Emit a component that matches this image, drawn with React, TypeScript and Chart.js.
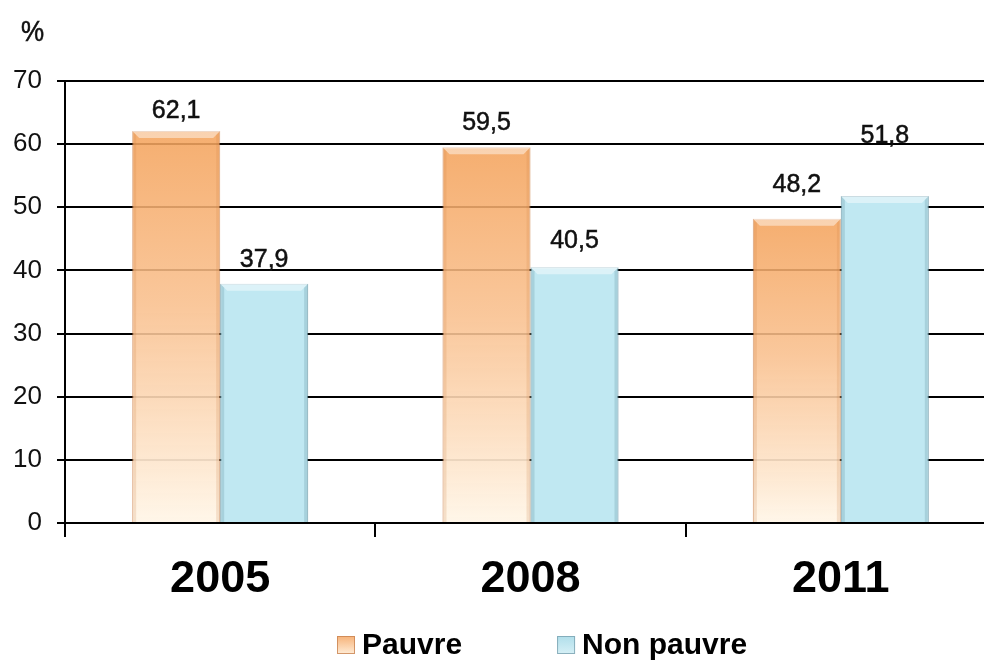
import { useEffect, useRef } from 'react';
import { Chart, registerables } from 'chart.js';

Chart.register(...registerables);

const categories = ['2005', '2008', '2011'];
const seriesNames = ['Pauvre', 'Non pauvre'];
const pauvre = [62.1, 59.5, 48.2];
const nonPauvre = [37.9, 40.5, 51.8];
const yTicks = [0, 10, 20, 30, 40, 50, 60, 70];
const unitLabel = '%';
// distance (px) of each value label above its bar top, as placed in the original
const pauvreLabelLift = [13, 17, 27];
const nonPauvreLabelLift = [17, 19, 53];

const FONT = '"Liberation Sans", Arial, Helvetica, sans-serif';

function orangeFill(ctx: any) {
  const chart = ctx.chart;
  const { chartArea, scales } = chart;
  if (!chartArea || !scales.y || ctx.type !== 'data') return 'rgba(245,168,100,0.9)';
  const v = pauvre[ctx.dataIndex];
  const top = scales.y.getPixelForValue(v);
  const bottom = scales.y.getPixelForValue(0);
  const g = chart.ctx.createLinearGradient(0, top, 0, bottom);
  g.addColorStop(0, 'rgba(244,163,92,0.88)');
  g.addColorStop(0.45, 'rgba(249,192,142,0.88)');
  g.addColorStop(1, 'rgba(255,246,232,0.95)');
  return g;
}

function blueFill() {
  return 'rgb(192,232,242)';
}

function stretchedText(ctx: any, text: string, x: number, y: number, sy: number) {
  ctx.save();
  ctx.translate(x, y);
  ctx.scale(1, sy);
  ctx.fillText(text, 0, 0);
  ctx.strokeText(text, 0, 0);
  ctx.restore();
}

const decorPlugin = {
  id: 'decor',
  afterDatasetsDraw(chart: any) {
    const ctx = chart.ctx;
    ctx.save();
    // bevel highlights on bar tops and shaded sides
    chart.data.datasets.forEach((ds: any, di: number) => {
      const meta = chart.getDatasetMeta(di);
      meta.data.forEach((bar: any) => {
        const l = bar.x - bar.width / 2;
        const r = bar.x + bar.width / 2;
        const t = bar.y;
        const b = bar.base;
        const bev = 7;
        ctx.fillStyle = 'rgba(255,255,255,0.45)';
        ctx.beginPath();
        ctx.moveTo(l, t);
        ctx.lineTo(r, t);
        ctx.lineTo(r - bev, t + bev);
        ctx.lineTo(l + bev, t + bev);
        ctx.closePath();
        ctx.fill();
        const side = di === 0 ? 'rgba(200,120,60,0.18)' : 'rgba(90,140,155,0.25)';
        ctx.fillStyle = side;
        ctx.beginPath();
        ctx.moveTo(r, t);
        ctx.lineTo(r, b);
        ctx.lineTo(r - 4, b);
        ctx.lineTo(r - 4, t + 4);
        ctx.closePath();
        ctx.fill();
        ctx.beginPath();
        ctx.moveTo(l, t);
        ctx.lineTo(l, b);
        ctx.lineTo(l + 4, b);
        ctx.lineTo(l + 4, t + 4);
        ctx.closePath();
        ctx.fill();
      });
    });
    // value labels
    const lifts = [pauvreLabelLift, nonPauvreLabelLift];
    ctx.font = `25px ${FONT}`;
    ctx.fillStyle = '#111';
    ctx.strokeStyle = '#111';
    ctx.lineWidth = 0.5;
    ctx.textAlign = 'center';
    ctx.textBaseline = 'alphabetic';
    chart.data.datasets.forEach((ds: any, di: number) => {
      const meta = chart.getDatasetMeta(di);
      meta.data.forEach((bar: any, i: number) => {
        const label = String(ds.data[i]).replace('.', ',');
        stretchedText(ctx, label, bar.x, bar.y - lifts[di][i], 1.06);
      });
    });
    ctx.restore();
  },
  afterDraw(chart: any) {
    const ctx = chart.ctx;
    ctx.save();
    // unit label
    ctx.font = `26px ${FONT}`;
    ctx.fillStyle = '#111';
    ctx.strokeStyle = '#111';
    ctx.lineWidth = 0.5;
    ctx.textAlign = 'left';
    ctx.textBaseline = 'alphabetic';
    stretchedText(ctx, unitLabel, 21, 41, 1.1);
    // legend
    ctx.font = `bold 30px ${FONT}`;
    ctx.textBaseline = 'middle';
    let x = 337;
    const y = 645;
    const fills = [
      ['rgb(246,178,120)', 'rgb(255,236,214)', 'rgba(200,130,80,0.8)'],
      ['rgb(176,222,234)', 'rgb(214,240,246)', 'rgba(120,160,175,0.8)'],
    ];
    chart.data.datasets.forEach((ds: any, i: number) => {
      const g = ctx.createLinearGradient(0, y - 9, 0, y + 9);
      g.addColorStop(0, fills[i][0]);
      g.addColorStop(1, fills[i][1]);
      ctx.fillStyle = g;
      ctx.fillRect(x, y - 9, 18, 18);
      ctx.strokeStyle = fills[i][2];
      ctx.lineWidth = 1;
      ctx.strokeRect(x + 0.5, y - 8.5, 17, 17);
      ctx.fillStyle = '#000';
      ctx.fillText(ds.label, x + 25, y + 1);
      x += 25 + ctx.measureText(ds.label).width + 95;
    });
    ctx.restore();
  },
};

export default function App() {
  const canvasRef = useRef<HTMLCanvasElement | null>(null);

  useEffect(() => {
    document.body.style.margin = '0';
    const canvas = canvasRef.current;
    if (!canvas) return;
    const chart = new Chart(canvas, {
      type: 'bar',
      data: {
        labels: categories,
        datasets: [
          {
            label: seriesNames[0],
            data: pauvre,
            backgroundColor: orangeFill as any,
            borderColor: 'rgba(205,130,75,0.55)',
            borderWidth: 1,
            categoryPercentage: 0.567,
            barPercentage: 1,
          },
          {
            label: seriesNames[1],
            data: nonPauvre,
            backgroundColor: blueFill as any,
            borderColor: 'rgba(120,165,180,0.7)',
            borderWidth: 1,
            categoryPercentage: 0.567,
            barPercentage: 1,
          },
        ],
      },
      options: {
        responsive: false,
        animation: false,
        devicePixelRatio: 1,
        layout: { padding: { top: 81, right: 4, bottom: 59, left: 0 } },
        plugins: {
          legend: { display: false },
          tooltip: { enabled: false },
          title: { display: false },
        },
        scales: {
          x: {
            offset: true,
            grid: {
              offset: true,
              drawOnChartArea: false,
              drawTicks: true,
              tickLength: 14,
              color: '#000',
              lineWidth: 2,
            },
            border: { color: '#000', width: 2 },
            ticks: {
              color: '#000',
              font: { family: FONT, size: 45, weight: 'bold' },
              padding: 16,
            },
            afterFit: (s: any) => {
              s.height = 80;
            },
          },
          y: {
            min: 0,
            max: 70,
            afterBuildTicks: (s: any) => {
              s.ticks = yTicks.map((v) => ({ value: v }));
            },
            afterFit: (s: any) => {
              s.width = 65;
            },
            grid: {
              color: '#000',
              lineWidth: 2,
              tickLength: 8,
            },
            border: { color: '#000', width: 2 },
            ticks: {
              color: '#111',
              font: { family: FONT, size: 26 },
              padding: 15,
            },
          },
        },
      },
      plugins: [decorPlugin],
    });
    return () => chart.destroy();
  }, []);

  return (
    <div style={{ width: 984, height: 662, overflow: 'hidden', position: 'relative', background: '#fff' }}>
      <canvas ref={canvasRef} width={1000} height={662} style={{ display: 'block' }} />
    </div>
  );
}
